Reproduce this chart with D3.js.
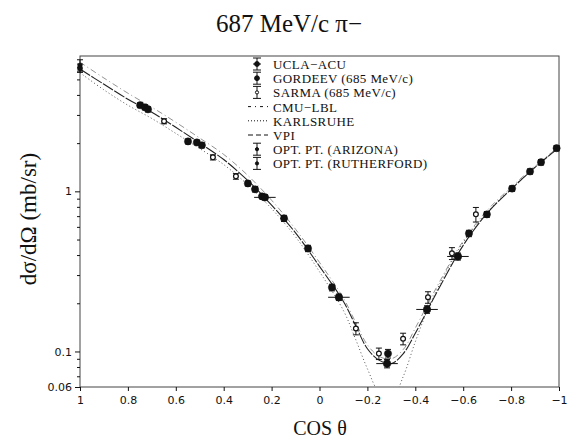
<!DOCTYPE html>
<html><head><meta charset="utf-8">
<script src="https://cdn.jsdelivr.net/npm/d3@7"></script>
<style>
body{margin:0;background:#fff;}
svg{display:block;}
</style></head>
<body>
<svg id="chart" width="571" height="442"></svg>
<script>
// ---- data ----
const xTicks = [1, 0.8, 0.6, 0.4, 0.2, 0, -0.2, -0.4, -0.6, -0.8, -1];
const xTickLabels = ["1","0.8","0.6","0.4","0.2","0","\u22120.2","\u22120.4","\u22120.6","\u22120.8","\u22121"];
const yMajorTicks = [0.06, 0.1, 1];
const yMajorLabels = ["0.06","0.1","1"];
const yMinorTicks = [0.07,0.08,0.09,0.2,0.3,0.4,0.5,0.6,0.7,0.8,0.9,2,3,4,5,6];

const curveCos = [1,0.9,0.8,0.7,0.6,0.5,0.4,0.3,0.2,0.1,0,-0.1,-0.15,-0.2,-0.25,-0.3,-0.35,-0.4,-0.45,-0.5,-0.6,-0.7,-0.8,-0.9,-1];
const vpi       = [5.8,4.66,3.76,3.12,2.51,2.0,1.58,1.17,0.82,0.55,0.34,0.205,0.146,0.104,0.088,0.084,0.097,0.13,0.18,0.25,0.46,0.73,1.03,1.41,1.88];
const cmuLbl    = [6.4,5.1,4.1,3.35,2.7,2.15,1.7,1.26,0.88,0.58,0.36,0.215,0.153,0.11,0.093,0.09,0.103,0.14,0.195,0.27,0.49,0.76,1.06,1.44,1.9];
const karlsruhe = [5.5,4.3,3.45,2.85,2.3,1.85,1.47,1.1,0.78,0.52,0.315,0.18,0.12,0.078,0.055,0.05,0.07,0.115,0.18,0.26,0.48,0.74,1.04,1.42,1.88];

const uclaCos = [0.749,0.729,0.716,0.549,0.512,0.491,0.299,0.269,0.24,0.148,0.048,-0.052,-0.286,-0.624,-0.699,-0.804,-0.879,-0.925,-0.99];
const uclaVal = [3.45,3.35,3.25,2.05,2.02,1.94,1.12,1.03,0.93,0.678,0.44,0.251,0.097,0.546,0.718,1.04,1.33,1.52,1.86];
const uclaErr = [0.12,0.12,0.12,0.07,0.07,0.07,0.04,0.04,0.03,0.03,0.02,0.012,0.006,0.025,0.03,0.04,0.05,0.06,0.07];

const gordCos = [0.228,-0.081,-0.282,-0.449,-0.578];
const gordVal = [0.917,0.218,0.084,0.183,0.392];
const gordErr = [0.035,0.01,0.005,0.01,0.02];
const gordXErr = [0.045,0.045,0.045,0.045,0.045];

const sarmaCos = [0.649,0.445,0.349,-0.152,-0.248,-0.349,-0.453,-0.553,-0.653];
const sarmaVal = [2.74,1.63,1.24,0.139,0.097,0.12,0.218,0.41,0.718];
const sarmaErr = [0.1,0.06,0.05,0.012,0.008,0.01,0.018,0.035,0.075];

const arizCos = [1];   const arizVal = [6.13]; const arizErr = [0.5];
const ruthCos = [1];   const ruthVal = [5.88]; const ruthErr = [0.35];

const legendNames = ["UCLA\u2212ACU","GORDEEV (685 MeV/c)","SARMA (685 MeV/c)","CMU\u2212LBL","KARLSRUHE","VPI","OPT. PT. (ARIZONA)","OPT. PT. (RUTHERFORD)"];

// ---- chart ----
const svg = d3.select("#chart");
const L = 80, R = 559, T = 56, B = 387;
const x = d3.scaleLinear().domain([1,-1]).range([L,R]);
const y = d3.scaleLog().domain([0.06,7]).range([B,T]);
const ink = "#111";

svg.append("defs").append("clipPath").attr("id","clip")
  .append("rect").attr("x",L).attr("y",T).attr("width",R-L).attr("height",B-T);

// title
svg.append("text").attr("x",289).attr("y",32).attr("text-anchor","middle")
  .attr("font-family","Liberation Serif, serif").attr("font-size",25).attr("fill",ink)
  .text("687 MeV/c \u03C0\u2212");

// frame
svg.append("rect").attr("x",L).attr("y",T).attr("width",R-L).attr("height",B-T)
  .attr("fill","none").attr("stroke","#444").attr("stroke-width",1);

// axes
const xAxis = svg.append("g").attr("transform",`translate(0,${B})`)
  .call(d3.axisBottom(x).tickValues(xTicks).tickSize(4).tickPadding(5)
        .tickFormat((d,i)=>xTickLabels[i]));
xAxis.select(".domain").remove();
xAxis.selectAll("text").attr("font-family","DejaVu Sans, sans-serif").attr("font-size",11).attr("fill",ink);
xAxis.selectAll("line").attr("stroke",ink);

const yAxis = svg.append("g").attr("transform",`translate(${L},0)`)
  .call(d3.axisLeft(y).tickValues(yMajorTicks).tickSize(5).tickPadding(3)
        .tickFormat((d,i)=>yMajorLabels[i]));
yAxis.select(".domain").remove();
yAxis.selectAll("text").attr("font-family","DejaVu Sans, sans-serif").attr("font-size",11).attr("fill",ink);
yAxis.selectAll("line").attr("stroke",ink);

const yMinor = svg.append("g").attr("transform",`translate(${L},0)`)
  .call(d3.axisLeft(y).tickValues(yMinorTicks).tickSize(3).tickFormat(""));
yMinor.select(".domain").remove();
yMinor.selectAll("line").attr("stroke",ink);

// axis titles
svg.append("text").attr("x",320).attr("y",435).attr("text-anchor","middle")
  .attr("font-family","Liberation Serif, serif").attr("font-size",20).attr("fill",ink)
  .text("COS \u03B8");
svg.append("text").attr("transform","translate(36,219) rotate(-90)").attr("text-anchor","middle")
  .attr("font-family","Liberation Serif, serif").attr("font-size",23).attr("fill",ink)
  .text("d\u03C3/d\u03A9 (mb/sr)");

// curves
const plot = svg.append("g").attr("clip-path","url(#clip)");
const line = d3.line().x(d=>x(d[0])).y(d=>y(d[1])).curve(d3.curveCatmullRom.alpha(0.5));
const curves = [
  {vals:karlsruhe, dash:"1,2.5", w:1, c:"#555"},
  {vals:cmuLbl, dash:"6,3,1,3", w:0.8, c:"#777"},
  {vals:vpi, dash:"12,1.5", w:1.1, c:"#222"}
];
curves.forEach(cv=>{
  plot.append("path").datum(curveCos.map((c,i)=>[c,cv.vals[i]]))
    .attr("d",line).attr("fill","none").attr("stroke",cv.c)
    .attr("stroke-width",cv.w).attr("stroke-dasharray",cv.dash);
});

// data points
function errSeries(cosArr,valArr,errArr,opts){
  const g = svg.append("g");
  cosArr.forEach((c,i)=>{
    const cx = x(c), cy = y(valArr[i]);
    const y1 = y(valArr[i]+errArr[i]), y2 = y(valArr[i]-errArr[i]);
    g.append("line").attr("x1",cx).attr("x2",cx).attr("y1",y1).attr("y2",y2).attr("stroke",ink).attr("stroke-width",1);
    [y1,y2].forEach(yy=>g.append("line").attr("x1",cx-3).attr("x2",cx+3).attr("y1",yy).attr("y2",yy).attr("stroke",ink).attr("stroke-width",1));
    if(opts.xerr){
      g.append("line").attr("x1",x(c+opts.xerr[i])).attr("x2",x(c-opts.xerr[i])).attr("y1",cy).attr("y2",cy).attr("stroke",ink).attr("stroke-width",1);
    }
    g.append("circle").attr("cx",cx).attr("cy",cy).attr("r",opts.r)
      .attr("fill",opts.hollow?"#fff":ink).attr("stroke",ink).attr("stroke-width",opts.hollow?1.2:0.5);
  });
}
errSeries(uclaCos,uclaVal,uclaErr,{r:3.6});
errSeries(gordCos,gordVal,gordErr,{r:3.8,xerr:gordXErr});
errSeries(sarmaCos,sarmaVal,sarmaErr,{r:2.4,hollow:true});
errSeries(arizCos,arizVal,arizErr,{r:2.2});
errSeries(ruthCos,ruthVal,ruthErr,{r:2.6});

// legend
const lg = svg.append("g");
const lx = 257, tx = 273, ly0 = 69, dy = 14.2;
legendNames.forEach((name,i)=>{
  const by = ly0 + i*dy;
  const cy = by - 5;
  lg.append("text").attr("x",tx).attr("y",by).attr("font-family","Liberation Serif, serif")
    .attr("font-size",13).attr("letter-spacing",0.4).attr("fill",ink).text(name);
  if(i===3||i===4||i===5){
    const dash = i===3?"3,4,1,4":(i===4?"1,2":"5,3");
    lg.append("line").attr("x1",lx-9).attr("x2",lx+11).attr("y1",cy).attr("y2",cy)
      .attr("stroke",ink).attr("stroke-width",1).attr("stroke-dasharray",dash);
  } else {
    lg.append("line").attr("x1",lx).attr("x2",lx).attr("y1",cy-6).attr("y2",cy+6).attr("stroke",ink);
    [cy-6,cy+6].forEach(yy=>lg.append("line").attr("x1",lx-4).attr("x2",lx+4).attr("y1",yy).attr("y2",yy).attr("stroke",ink));
    if(i===0) lg.append("line").attr("x1",lx-4).attr("x2",lx+4).attr("y1",cy).attr("y2",cy).attr("stroke",ink);
    const r = (i===0||i===1)?2.4:1.6;
    lg.append("circle").attr("cx",lx).attr("cy",cy).attr("r",r).attr("fill",i===2?"#fff":ink).attr("stroke",ink);
  }
});
</script>
</body></html>
